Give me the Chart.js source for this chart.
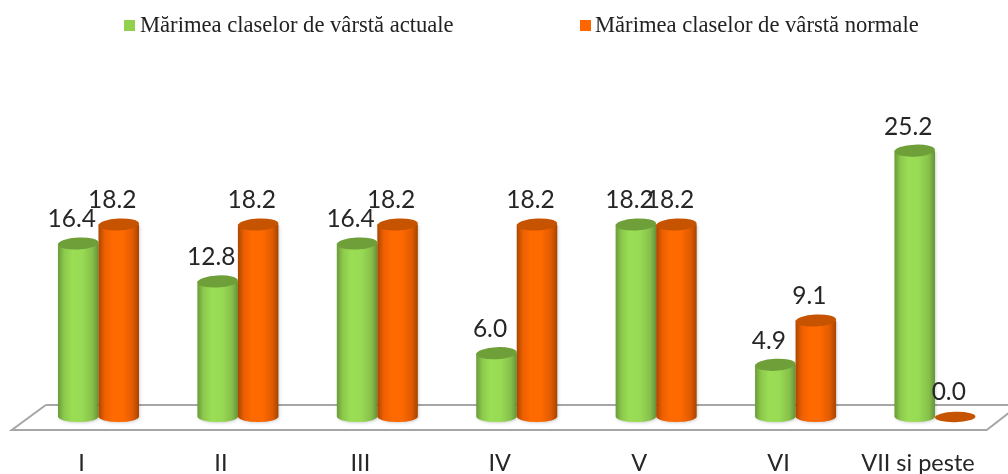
<!DOCTYPE html>
<html>
<head>
<meta charset="utf-8">
<style>html,body{margin:0;padding:0;background:#fff}#w{width:1008px;height:474px;position:relative}</style>
<script src="https://cdn.jsdelivr.net/npm/chart.js@4/dist/chart.umd.min.js"></script>
</head>
<body>
<div id="w"><canvas id="c" width="1008" height="474"></canvas></div>
<script>
const categories = ["I","II","III","IV","V","VI","VII si peste"];
const actuale = [16.4,12.8,16.4,6.0,18.2,4.9,25.2];
const normale = [18.2,18.2,18.2,18.2,18.2,9.1,0.0];
const seriesNames = ["Mărimea claselor de vârstă actuale","Mărimea claselor de vârstă normale"];
const palette = [
  {base:"#92d050",top:"#6f9f39",stops:["#6b9a38","#8cc94c","#9ade55","#98da54","#86c04a","#679337"]},
  {base:"#ff6600",top:"#c65300",stops:["#a94700","#ec5f00","#ff6a00","#ff6a00","#e05a00","#a44500"]}
];
const legendX = [[124,140],[580,595]];

const floorPlugin = {
  id:"floor",
  beforeDatasetsDraw(chart){
    const {ctx,scales:{x,y}} = chart, y0 = y.getPixelForValue(0);
    ctx.save();
    ctx.strokeStyle="#a6a6a6"; ctx.lineWidth=2; ctx.lineJoin="miter";
    ctx.beginPath();
    ctx.moveTo(x.left+17, y0-11.5);
    ctx.lineTo(x.right+4, y0-11.5);
    ctx.moveTo(x.left+17, y0-11.5);
    ctx.lineTo(x.left-17, y0+13.5);
    ctx.lineTo(x.right-18, y0+13.5);
    ctx.lineTo(x.right+6, y0-5);
    ctx.stroke();
    ctx.restore();
  }
};
const cylPlugin = {
  id:"cyl",
  afterDatasetsDraw(chart){
    const {ctx,scales:{y}} = chart, y0=y.getPixelForValue(0), ry=6;
    const n = categories.length;
    for(let i=0;i<n;i++){
      chart.data.datasets.forEach((ds,d)=>{
        const b = chart.getDatasetMeta(d).data[i], p = b.getProps(["x","y","width"],true);
        const rx = p.width/2, pal = palette[d], l=p.x-rx, r=p.x+rx;
        ctx.save();
        if(ds.data[i] === 0){
          ctx.fillStyle=pal.top;
          ctx.beginPath(); ctx.ellipse(p.x,y0+0.5,rx,ry-0.8,-0.03,0,Math.PI*2); ctx.fill();
          ctx.restore(); return;
        }
        const g = ctx.createLinearGradient(l,0,r,0);
        [0,0.15,0.35,0.6,0.85,1].forEach((s,k)=>g.addColorStop(s,pal.stops[k]));
        ctx.fillStyle=g;
        ctx.shadowColor="rgba(0,0,0,0.18)"; ctx.shadowBlur=3; ctx.shadowOffsetX=1; ctx.shadowOffsetY=1;
        ctx.beginPath();
        ctx.moveTo(l,p.y);
        ctx.lineTo(l,y0);
        ctx.ellipse(p.x,y0,rx,ry-0.5,0,Math.PI,0,true);
        ctx.lineTo(r,p.y);
        ctx.closePath();
        ctx.fill();
        ctx.shadowColor="transparent";
        ctx.fillStyle=pal.top;
        ctx.beginPath(); ctx.ellipse(p.x,p.y,rx,ry,-0.05,0,Math.PI*2); ctx.fill();
        ctx.restore();
      });
    }
    // value labels
    ctx.save();
    ctx.font='24.5px Lato, "Open Sans", sans-serif';
    ctx.fillStyle="#262626"; ctx.textAlign="center"; ctx.textBaseline="middle";
    chart.data.datasets.forEach((ds,d)=>{
      chart.getDatasetMeta(d).data.forEach((b,i)=>{
        const p=b.getProps(["x","y"],true);
        ctx.fillText(ds.data[i].toFixed(1), p.x-6.5, p.y-24);
      });
    });
    ctx.restore();
    // legend
    ctx.save();
    ctx.font='22.6px "Liberation Serif", serif';
    ctx.textBaseline="middle"; ctx.textAlign="left";
    chart.data.datasets.forEach((ds,d)=>{
      ctx.fillStyle=palette[d].base;
      ctx.fillRect(legendX[d][0],20,11,11);
      ctx.fillStyle="#222";
      ctx.fillText(ds.label,legendX[d][1],26);
    });
    ctx.restore();
  }
};
new Chart(document.getElementById("c"),{
  type:"bar",
  data:{labels:categories,datasets:[
    {label:seriesNames[0],data:actuale,backgroundColor:"rgba(0,0,0,0)"},
    {label:seriesNames[1],data:normale,backgroundColor:"rgba(0,0,0,0)"}
  ]},
  options:{
    responsive:false,animation:false,
    layout:{padding:{left:28.8,right:3.3,top:100,bottom:0}},
    datasets:{bar:{categoryPercentage:0.581,barPercentage:1}},
    plugins:{legend:{display:false},tooltip:{enabled:false},title:{display:false}},
    scales:{
      x:{
        grid:{display:false},border:{display:false},
        ticks:{color:"#262626",font:{family:'Lato, "Open Sans", sans-serif',size:23.5},padding:25,labelOffset:-17,maxRotation:0,autoSkip:false},
        afterFit(s){s.height=57.5;s.paddingLeft=0;s.paddingRight=0;}
      },
      y:{display:false,min:0,max:30}
    }
  },
  plugins:[floorPlugin,cylPlugin]
});
</script>
</body>
</html>
